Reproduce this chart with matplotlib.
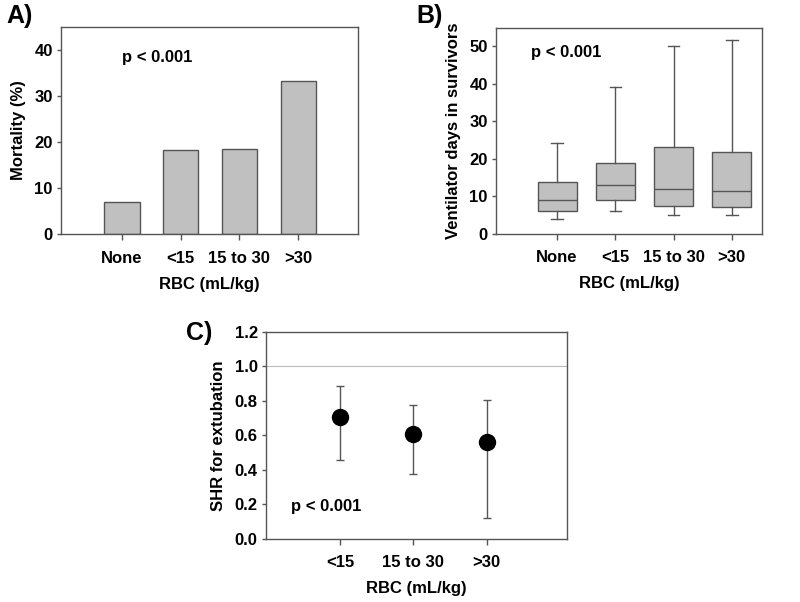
import matplotlib
matplotlib.use("Agg")
import matplotlib.pyplot as plt

plt.rcParams["font.family"] = ["Liberation Sans", "DejaVu Sans"]
plt.rcParams["font.weight"] = "bold"

# ---- data ----
groups = ["None", "<15", "15 to 30", ">30"]
mortality = [6.9, 18.3, 18.5, 33.3]

# box stats: whislo, q1, med, q3, whishi
vent_lo = [3.9, 6.0, 5.0, 5.0]
vent_q1 = [6.0, 8.9, 7.5, 7.2]
vent_med = [8.9, 13.0, 12.0, 11.5]
vent_q3 = [13.7, 19.0, 23.1, 21.7]
vent_hi = [24.2, 39.1, 50.1, 51.8]

shr_groups = ["<15", "15 to 30", ">30"]
shr = [0.706, 0.609, 0.562]
shr_lo = [0.456, 0.376, 0.122]
shr_hi = [0.888, 0.777, 0.806]

edge = "#555555"
fill = "#c0c0c0"
FS = 12

fig = plt.figure(figsize=(8, 6.02), dpi=100)


def style(ax):
    for s in ax.spines.values():
        s.set_color(edge)
        s.set_linewidth(1.0)
    ax.tick_params(axis="y", direction="out", length=3, width=1, color=edge,
                   labelsize=FS, pad=3)
    ax.tick_params(axis="x", direction="out", length=4, width=1, color=edge,
                   labelsize=FS, pad=8)
    for lab in ax.get_xticklabels() + ax.get_yticklabels():
        lab.set_fontweight("bold")


# ---- A) mortality ----
axA = fig.add_axes([0.07625, 0.6113, 0.37125, 0.3439])
xs = range(len(groups))
axA.bar(xs, mortality, width=0.6, color=fill, edgecolor=edge, linewidth=1)
axA.set_xlim(-1.04, 4.02)
axA.set_ylim(0, 45)
axA.set_yticks([0, 10, 20, 30, 40])
axA.set_xticks(list(xs))
axA.set_xticklabels(groups)
axA.set_ylabel("Mortality (%)", fontsize=FS, fontweight="bold", labelpad=6)
axA.set_xlabel("RBC (mL/kg)", fontsize=FS, fontweight="bold", labelpad=8)
axA.text(0.0, 38.3, "p < 0.001", fontsize=FS, fontweight="bold", va="center")
style(axA)
fig.text(0.008, 0.973, "A)", fontsize=18, fontweight="bold", va="center")

# ---- B) ventilator days ----
axB = fig.add_axes([0.62, 0.6118, 0.3325, 0.3422])
stats = []
for i in range(len(groups)):
    stats.append({"whislo": vent_lo[i], "q1": vent_q1[i], "med": vent_med[i],
                  "q3": vent_q3[i], "whishi": vent_hi[i], "fliers": []})
axB.bxp(stats, positions=list(xs), widths=0.67, patch_artist=True,
        showfliers=False,
        boxprops=dict(facecolor=fill, edgecolor=edge, linewidth=1),
        medianprops=dict(color=edge, linewidth=1),
        whiskerprops=dict(color=edge, linewidth=1),
        capprops=dict(color=edge, linewidth=1),
        capwidths=0.2)
axB.set_xlim(-1.05, 3.52)
axB.set_ylim(0, 55)
axB.set_yticks([0, 10, 20, 30, 40, 50])
axB.set_xticks(list(xs))
axB.set_xticklabels(groups)
axB.set_ylabel("Ventilator days in survivors", fontsize=FS, fontweight="bold",
               labelpad=6)
axB.set_xlabel("RBC (mL/kg)", fontsize=FS, fontweight="bold", labelpad=8)
axB.text(-0.45, 48.3, "p < 0.001", fontsize=FS, fontweight="bold", va="center")
style(axB)
fig.text(0.521, 0.973, "B)", fontsize=18, fontweight="bold", va="center")

# ---- C) SHR ----
axC = fig.add_axes([0.3325, 0.1052, 0.3759, 0.3433])
xc = [1, 2, 3]
yerr = [[s - lo for s, lo in zip(shr, shr_lo)],
        [hi - s for s, hi in zip(shr, shr_hi)]]
axC.axhline(1.0, color="#bbbbbb", linewidth=0.8, zorder=0)
axC.errorbar(xc, shr, yerr=yerr, fmt="o", color="black", markersize=11.5,
             ecolor=edge, elinewidth=1, capsize=3, capthick=1)
axC.set_xlim(-0.01, 4.09)
axC.set_ylim(0, 1.2)
axC.set_yticks([0.0, 0.2, 0.4, 0.6, 0.8, 1.0, 1.2])
axC.set_yticklabels(["0.0", "0.2", "0.4", "0.6", "0.8", "1.0", "1.2"])
axC.set_xticks(xc)
axC.set_xticklabels(shr_groups)
axC.set_ylabel("SHR for extubation", fontsize=FS, fontweight="bold",
               labelpad=6)
axC.set_xlabel("RBC (mL/kg)", fontsize=FS, fontweight="bold", labelpad=8)
axC.text(0.33, 0.186, "p < 0.001", fontsize=FS, fontweight="bold", va="center")
style(axC)
fig.text(0.232, 0.447, "C)", fontsize=18, fontweight="bold", va="center")

fig.savefig("out.png", dpi=100)
